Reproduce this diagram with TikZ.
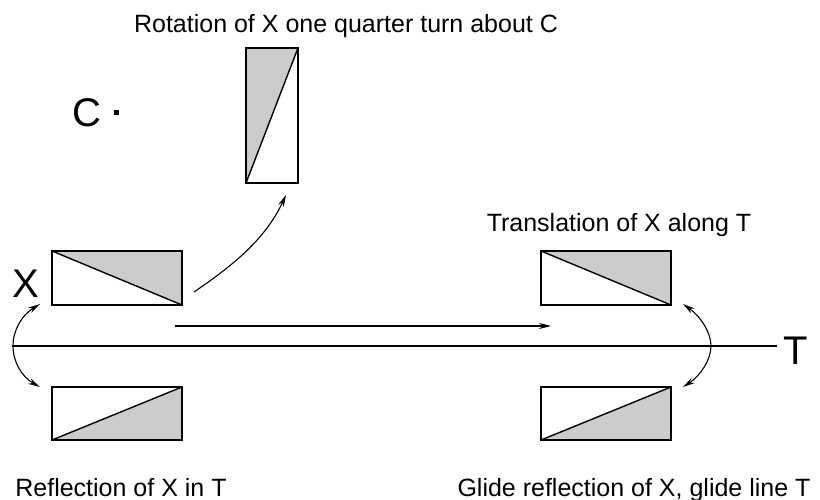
\documentclass[tikz,border=0pt]{standalone}
\usepackage{fontspec}
\setmainfont{Liberation Sans}
\usetikzlibrary{arrows.meta}
\begin{document}
\begin{tikzpicture}[x=1pt,y=-1pt,
  shade/.style={fill=black!20},
  box/.style={draw=black,line width=1.4pt},
  diag/.style={draw=black,line width=1.4pt},
  conn/.style={draw=black,line width=1.1pt,-{Stealth[length=12pt,width=6pt]}},
  dconn/.style={draw=black,line width=1.1pt,{Stealth[length=12pt,width=6pt]}-{Stealth[length=12pt,width=6pt]}},
  caption/.style={font=\fontsize{25}{28}\selectfont,inner sep=0pt,anchor=base},
  biglabel/.style={font=\fontsize{40}{44}\selectfont,inner sep=0pt}]
\useasboundingbox (0,0) rectangle (820,500);
% line T
\draw[line width=1.8pt] (12,346) coordinate (tl) -- (777,346) coordinate (tr);
\node[biglabel] (T) at (796,351) {T};
\node[biglabel] (X) at (26,284) {X};
\node[biglabel] (C) at (87,113) {C};
\fill (113.5,110.5) rectangle (118.5,115.5);
\coordinate (Cdot) at (116,113);
% X
\fill[shade] (52,251) -- (182,251) -- (182,305) -- cycle;
\draw[box] (52,251) rectangle (182,305);
\draw[diag] (52,251) -- (182,305);
% Reflection
\fill[shade] (52,440) -- (182,387) -- (182,440) -- cycle;
\draw[box] (52,387) rectangle (182,440);
\draw[diag] (52,440) -- (182,387);
% Translation
\fill[shade] (541,251) -- (671,251) -- (671,305) -- cycle;
\draw[box] (541,251) rectangle (671,305);
\draw[diag] (541,251) -- (671,305);
% Glide
\fill[shade] (541,440) -- (671,387) -- (671,440) -- cycle;
\draw[box] (541,387) rectangle (671,440);
\draw[diag] (541,440) -- (671,387);
% Rotation
\fill[shade] (246,183) -- (246,48) -- (298,48) -- cycle;
\draw[box] (246,48) rectangle (298,183);
\draw[diag] (246,183) -- (298,48);
% connectors
\coordinate (lt) at (40,304); \coordinate (lv) at (13,346); \coordinate (lb) at (40,387);
\coordinate (rt) at (683,304); \coordinate (rv) at (711,346); \coordinate (rb) at (683,387);
\coordinate (ts) at (175,326); \coordinate (te) at (551,326);
\coordinate (rs) at (194,292); \coordinate (re) at (286,195);
\draw[dconn] (lt) .. controls (22,315) and (13,330) .. (lv) .. controls (13,362) and (22,377) .. (lb);
\draw[dconn] (rt) .. controls (700,316) and (711,332) .. (rv) .. controls (711,360) and (700,376) .. (rb);
\draw[conn] (ts) -- (te);
\draw[conn] (rs) .. controls (232,266) and (265,240) .. (re);
% captions
\node[caption] (rot) at (346,33) {Rotation of X one quarter turn about C};
\node[caption] (tra) at (619,232) {Translation of X along T};
\node[caption] (ref) at (121,496) {Reflection of X in T};
\node[caption] (gli) at (634,496) {Glide reflection of X, glide line T};
\end{tikzpicture}
\end{document}
